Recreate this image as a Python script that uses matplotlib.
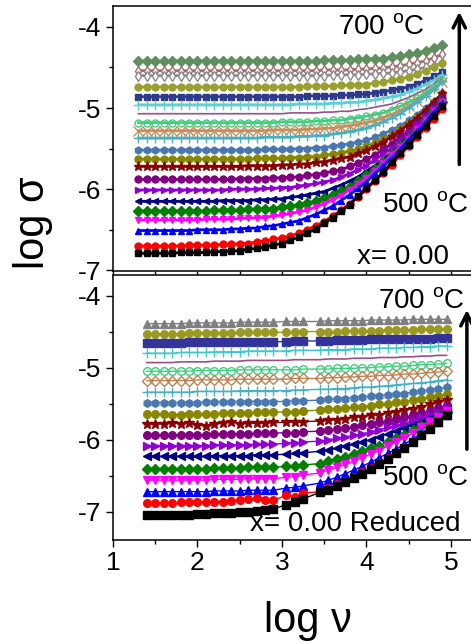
import matplotlib.pyplot as plt
from matplotlib.ticker import MultipleLocator

plt.rcParams['font.family'] = ['Liberation Sans', 'DejaVu Sans']
plt.rcParams['mathtext.fontset'] = 'custom'
plt.rcParams['mathtext.rm'] = 'Liberation Sans'
plt.rcParams['mathtext.default'] = 'regular'
plt.rcParams['axes.unicode_minus'] = False

# ---- data: log(sigma) vs log(nu), curves listed from 700 C down to 500 C ----
x_top = [1.3, 1.4, 1.5, 1.6, 1.7, 1.8, 1.9, 2.0, 2.1, 2.2, 2.3, 2.4, 2.5,
         2.6, 2.7, 2.8, 2.9, 3.0, 3.1, 3.2, 3.3, 3.4, 3.5, 3.6, 3.7, 3.8,
         3.9, 4.0, 4.1, 4.2, 4.3, 4.4, 4.5, 4.6, 4.7, 4.8, 4.9]

sig_top = [
    [-4.42, -4.42, -4.42, -4.42, -4.42, -4.42, -4.42, -4.42, -4.42, -4.42, -4.42, -4.42, -4.42, -4.42, -4.42, -4.42, -4.42, -4.42, -4.42, -4.42, -4.42, -4.42,
     -4.41, -4.41, -4.41, -4.41, -4.40, -4.40, -4.39, -4.39, -4.37, -4.36, -4.34, -4.32, -4.30, -4.26, -4.22],
    [-4.54, -4.54, -4.54, -4.54, -4.54, -4.54, -4.54, -4.54, -4.54, -4.54, -4.54, -4.54, -4.54, -4.54, -4.54, -4.54, -4.54, -4.54, -4.54, -4.54, -4.54, -4.54,
     -4.53, -4.53, -4.53, -4.53, -4.52, -4.52, -4.51, -4.51, -4.49, -4.48, -4.46, -4.44, -4.42, -4.38, -4.34],
    [-4.60, -4.60, -4.60, -4.60, -4.60, -4.60, -4.60, -4.60, -4.60, -4.60, -4.60, -4.60, -4.60, -4.60, -4.60, -4.60, -4.60, -4.60, -4.60, -4.60, -4.60, -4.60, -4.60,
     -4.59, -4.59, -4.59, -4.59, -4.58, -4.58, -4.57, -4.57, -4.55, -4.54, -4.52, -4.50, -4.48, -4.44],
    [-4.74, -4.74, -4.74, -4.74, -4.74, -4.74, -4.74, -4.74, -4.74, -4.74, -4.74, -4.74, -4.74, -4.74, -4.74, -4.74, -4.74, -4.74, -4.74, -4.74,
     -4.73, -4.73, -4.73, -4.73, -4.72, -4.72, -4.71, -4.71, -4.69, -4.68, -4.66, -4.64, -4.62, -4.58, -4.54, -4.49, -4.44],
    [-4.86, -4.86, -4.86, -4.86, -4.86, -4.86, -4.86, -4.86, -4.86, -4.86, -4.86, -4.86, -4.86, -4.86, -4.86, -4.86, -4.86, -4.86, -4.86, -4.86,
     -4.85, -4.85, -4.85, -4.85, -4.84, -4.84, -4.83, -4.83, -4.81, -4.80, -4.78, -4.76, -4.74, -4.70, -4.66, -4.61, -4.56],
    [-4.96, -4.96, -4.96, -4.96, -4.96, -4.96, -4.96, -4.96, -4.96, -4.96, -4.96, -4.96, -4.96, -4.96, -4.96, -4.96, -4.96, -4.96, -4.96,
     -4.95, -4.95, -4.95, -4.95, -4.94, -4.94, -4.93, -4.93, -4.91, -4.90, -4.88, -4.86, -4.84, -4.80, -4.76, -4.71, -4.66, -4.59],
    [-5.07, -5.07, -5.07, -5.07, -5.07, -5.07, -5.07, -5.07, -5.07, -5.07, -5.07, -5.07, -5.07, -5.07, -5.07, -5.07, -5.07, -5.07,
     -5.06, -5.06, -5.06, -5.06, -5.05, -5.05, -5.04, -5.04, -5.02, -5.01, -4.99, -4.97, -4.95, -4.91, -4.87, -4.82, -4.77, -4.70, -4.63],
    [-5.18, -5.18, -5.18, -5.18, -5.18, -5.18, -5.18, -5.18, -5.18, -5.18, -5.18, -5.18, -5.18, -5.18, -5.18, -5.18, -5.18,
     -5.17, -5.17, -5.17, -5.17, -5.16, -5.16, -5.15, -5.15, -5.13, -5.12, -5.10, -5.08, -5.06, -5.02, -4.98, -4.93, -4.88, -4.81, -4.74, -4.66],
    [-5.28, -5.28, -5.28, -5.28, -5.28, -5.28, -5.28, -5.28, -5.28, -5.28, -5.28, -5.28, -5.28, -5.28, -5.28, -5.28,
     -5.27, -5.27, -5.27, -5.27, -5.26, -5.26, -5.25, -5.25, -5.23, -5.22, -5.20, -5.18, -5.16, -5.12, -5.08, -5.03, -4.98, -4.91, -4.84, -4.76, -4.68],
    [-5.37, -5.37, -5.37, -5.37, -5.37, -5.37, -5.37, -5.37, -5.37, -5.37, -5.37, -5.37, -5.37, -5.37, -5.37,
     -5.36, -5.36, -5.36, -5.36, -5.35, -5.35, -5.34, -5.34, -5.32, -5.31, -5.29, -5.27, -5.25, -5.21, -5.17, -5.12, -5.07, -5.00, -4.93, -4.85, -4.77, -4.67],
    [-5.52, -5.52, -5.52, -5.52, -5.52, -5.52, -5.52, -5.52, -5.52, -5.52, -5.52, -5.52, -5.52, -5.52, -5.52,
     -5.51, -5.51, -5.51, -5.51, -5.50, -5.50, -5.49, -5.49, -5.47, -5.46, -5.44, -5.42, -5.40, -5.36, -5.32, -5.27, -5.22, -5.15, -5.08, -5.00, -4.92, -4.82],
    [-5.63, -5.63, -5.63, -5.63, -5.63, -5.63, -5.63, -5.63, -5.63, -5.63, -5.63, -5.63, -5.63, -5.63,
     -5.62, -5.62, -5.62, -5.62, -5.61, -5.61, -5.60, -5.60, -5.58, -5.57, -5.55, -5.53, -5.51, -5.47, -5.43, -5.38, -5.33, -5.26, -5.19, -5.11, -5.03, -4.93, -4.83],
    [-5.72, -5.72, -5.72, -5.72, -5.72, -5.72, -5.72, -5.72, -5.72, -5.72, -5.72, -5.72, -5.72,
     -5.71, -5.71, -5.71, -5.71, -5.70, -5.70, -5.69, -5.69, -5.67, -5.66, -5.64, -5.62, -5.60, -5.56, -5.52, -5.47, -5.42, -5.35, -5.28, -5.20, -5.12, -5.02, -4.92, -4.82],
    [-5.88, -5.88, -5.88, -5.88, -5.88, -5.88, -5.88, -5.88, -5.88, -5.88, -5.88, -5.88,
     -5.87, -5.87, -5.87, -5.87, -5.86, -5.86, -5.85, -5.85, -5.83, -5.82, -5.80, -5.78, -5.76, -5.72, -5.68, -5.63, -5.58, -5.51, -5.44, -5.36, -5.28, -5.18, -5.08, -4.98, -4.88],
    [-6.01, -6.01, -6.01, -6.01, -6.01, -6.01, -6.01, -6.01, -6.01, -6.01, -6.01,
     -6.00, -6.00, -6.00, -6.00, -5.99, -5.99, -5.98, -5.98, -5.96, -5.95, -5.93, -5.91, -5.89, -5.85, -5.81, -5.76, -5.71, -5.64, -5.57, -5.49, -5.41, -5.31, -5.21, -5.11, -5.01, -4.89],
    [-6.15, -6.15, -6.15, -6.15, -6.15, -6.15, -6.15, -6.15, -6.15, -6.15,
     -6.14, -6.14, -6.14, -6.14, -6.13, -6.13, -6.12, -6.12, -6.10, -6.09, -6.07, -6.05, -6.03, -5.99, -5.95, -5.90, -5.85, -5.78, -5.71, -5.63, -5.55, -5.45, -5.35, -5.25, -5.15, -5.03, -4.92],
    [-6.27, -6.27, -6.27, -6.27, -6.27, -6.27, -6.27, -6.27, -6.27,
     -6.26, -6.26, -6.26, -6.26, -6.25, -6.25, -6.24, -6.24, -6.22, -6.21, -6.19, -6.17, -6.15, -6.11, -6.07, -6.02, -5.97, -5.90, -5.83, -5.75, -5.67, -5.57, -5.47, -5.37, -5.27, -5.15, -5.04, -4.93],
    [-6.38, -6.38, -6.38, -6.38, -6.38, -6.38, -6.38, -6.38,
     -6.37, -6.37, -6.37, -6.37, -6.36, -6.36, -6.35, -6.35, -6.33, -6.32, -6.30, -6.28, -6.26, -6.22, -6.18, -6.13, -6.08, -6.01, -5.94, -5.86, -5.78, -5.68, -5.58, -5.48, -5.38, -5.26, -5.15, -5.04, -4.92],
    [-6.51, -6.51, -6.51, -6.51, -6.51, -6.51, -6.51,
     -6.50, -6.50, -6.50, -6.50, -6.49, -6.49, -6.48, -6.48, -6.46, -6.45, -6.43, -6.41, -6.39, -6.35, -6.31, -6.26, -6.21, -6.14, -6.07, -5.99, -5.91, -5.81, -5.71, -5.61, -5.51, -5.39, -5.28, -5.17, -5.05, -4.94],
    [-6.70, -6.70, -6.70, -6.70, -6.70, -6.70,
     -6.69, -6.69, -6.69, -6.69, -6.68, -6.68, -6.67, -6.67, -6.65, -6.64, -6.62, -6.60, -6.58, -6.54, -6.50, -6.45, -6.40, -6.33, -6.26, -6.18, -6.10, -6.00, -5.90, -5.80, -5.70, -5.58, -5.47, -5.36, -5.24, -5.13, -5.01],
    [-6.79, -6.79, -6.79, -6.79, -6.79,
     -6.78, -6.78, -6.78, -6.78, -6.77, -6.77, -6.76, -6.76, -6.74, -6.73, -6.71, -6.69, -6.67, -6.63, -6.59, -6.54, -6.49, -6.42, -6.35, -6.27, -6.19, -6.09, -5.99, -5.89, -5.79, -5.67, -5.56, -5.45, -5.33, -5.22, -5.10, -4.98],
]

# reduced sample: three frequency blocks with gaps between them
x_bot = [1.4, 1.5, 1.6, 1.7, 1.8, 1.9, 2.0, 2.1, 2.2, 2.3, 2.4, 2.5, 2.6, 2.7, 2.8, 2.9,
         3.05, 3.15, 3.25,
         3.45, 3.55, 3.65, 3.75, 3.85, 3.95, 4.05, 4.15, 4.25, 4.35, 4.45, 4.55, 4.65, 4.75, 4.85, 4.95]

sig_bot = [
    [-4.39, -4.39, -4.39, -4.39, -4.39, -4.38, -4.38, -4.38, -4.38, -4.38, -4.38, -4.37, -4.37, -4.37, -4.37, -4.37,
     -4.36, -4.36, -4.36,
     -4.36, -4.35, -4.35, -4.35, -4.35, -4.35, -4.34, -4.34, -4.34, -4.34, -4.34, -4.33, -4.33, -4.33, -4.33, -4.33],
    [-4.53, -4.53, -4.53, -4.53, -4.53, -4.52, -4.52, -4.52, -4.52, -4.52, -4.52, -4.51, -4.51, -4.51, -4.51, -4.51,
     -4.51, -4.51, -4.50,
     -4.50, -4.50, -4.50, -4.49, -4.49, -4.49, -4.49, -4.49, -4.48, -4.48, -4.48, -4.48, -4.47, -4.47, -4.47, -4.47],
    [-4.66, -4.66, -4.66, -4.66, -4.66, -4.65, -4.65, -4.65, -4.65, -4.65, -4.65, -4.64, -4.64, -4.64, -4.64, -4.64,
     -4.64, -4.63, -4.63,
     -4.63, -4.63, -4.62, -4.62, -4.62, -4.62, -4.61, -4.61, -4.61, -4.61, -4.60, -4.60, -4.60, -4.60, -4.59, -4.59],
    [-4.80, -4.80, -4.80, -4.80, -4.79, -4.79, -4.79, -4.79, -4.78, -4.78, -4.78, -4.78, -4.77, -4.77, -4.77, -4.77,
     -4.77, -4.76, -4.76,
     -4.76, -4.75, -4.75, -4.75, -4.74, -4.74, -4.74, -4.73, -4.73, -4.73, -4.72, -4.72, -4.71, -4.71, -4.70, -4.70],
    [-4.93, -4.93, -4.93, -4.93, -4.92, -4.92, -4.92, -4.92, -4.91, -4.91, -4.91, -4.91, -4.90, -4.90, -4.90, -4.90,
     -4.90, -4.89, -4.89,
     -4.89, -4.88, -4.88, -4.88, -4.87, -4.87, -4.87, -4.86, -4.86, -4.86, -4.85, -4.85, -4.84, -4.84, -4.83, -4.83],
    [-5.05, -5.05, -5.05, -5.05, -5.05, -5.05, -5.04, -5.04, -5.04, -5.04, -5.04, -5.03, -5.03, -5.03, -5.03, -5.03,
     -5.03, -5.03, -5.02,
     -5.02, -5.02, -5.01, -5.01, -5.01, -5.00, -5.00, -4.99, -4.99, -4.98, -4.98, -4.97, -4.96, -4.96, -4.95, -4.94],
    [-5.18, -5.18, -5.18, -5.18, -5.18, -5.18, -5.17, -5.17, -5.17, -5.17, -5.17, -5.16, -5.16, -5.16, -5.16, -5.16,
     -5.16, -5.15, -5.15,
     -5.15, -5.14, -5.14, -5.13, -5.13, -5.12, -5.12, -5.11, -5.11, -5.10, -5.09, -5.09, -5.08, -5.07, -5.06, -5.05],
    [-5.34, -5.34, -5.34, -5.34, -5.34, -5.34, -5.33, -5.33, -5.33, -5.33, -5.33, -5.32, -5.32, -5.32, -5.32, -5.32,
     -5.32, -5.31, -5.31,
     -5.30, -5.30, -5.29, -5.29, -5.28, -5.27, -5.27, -5.26, -5.25, -5.24, -5.23, -5.22, -5.21, -5.20, -5.18, -5.17],
    [-5.49, -5.49, -5.49, -5.49, -5.49, -5.49, -5.49, -5.48, -5.48, -5.48, -5.48, -5.48, -5.47, -5.47, -5.47, -5.47,
     -5.47, -5.46, -5.46,
     -5.45, -5.44, -5.44, -5.43, -5.42, -5.41, -5.40, -5.39, -5.38, -5.37, -5.36, -5.34, -5.33, -5.31, -5.29, -5.27],
    [-5.64, -5.64, -5.64, -5.65, -5.65, -5.64, -5.64, -5.64, -5.64, -5.63, -5.63, -5.63, -5.63, -5.62, -5.62, -5.62,
     -5.61, -5.61, -5.60,
     -5.59, -5.58, -5.57, -5.56, -5.55, -5.54, -5.53, -5.51, -5.50, -5.48, -5.47, -5.45, -5.43, -5.41, -5.39, -5.37],
    [-5.78, -5.78, -5.78, -5.77, -5.78, -5.77, -5.79, -5.81, -5.78, -5.77, -5.75, -5.78, -5.77, -5.77, -5.77, -5.76,
     -5.76, -5.75, -5.75,
     -5.74, -5.73, -5.72, -5.71, -5.69, -5.68, -5.66, -5.65, -5.63, -5.61, -5.59, -5.57, -5.54, -5.51, -5.48, -5.45],
    [-5.93, -5.93, -5.93, -5.93, -5.93, -5.93, -5.93, -5.93, -5.92, -5.92, -5.92, -5.92, -5.92, -5.91, -5.91, -5.91,
     -5.90, -5.90, -5.89,
     -5.88, -5.87, -5.85, -5.84, -5.82, -5.80, -5.78, -5.76, -5.74, -5.71, -5.69, -5.66, -5.63, -5.60, -5.56, -5.52],
    [-6.08, -6.08, -6.08, -6.08, -6.08, -6.08, -6.08, -6.08, -6.07, -6.07, -6.07, -6.07, -6.07, -6.06, -6.06, -6.06,
     -6.05, -6.04, -6.03,
     -6.02, -6.00, -5.98, -5.96, -5.94, -5.92, -5.89, -5.86, -5.83, -5.80, -5.77, -5.73, -5.69, -5.65, -5.61, -5.56],
    [-6.23, -6.23, -6.23, -6.23, -6.23, -6.23, -6.23, -6.23, -6.22, -6.22, -6.22, -6.22, -6.22, -6.21, -6.21, -6.21,
     -6.20, -6.19, -6.18,
     -6.16, -6.14, -6.12, -6.09, -6.06, -6.03, -6.00, -5.96, -5.92, -5.88, -5.84, -5.80, -5.75, -5.70, -5.65, -5.59],
    [-6.40, -6.40, -6.40, -6.40, -6.40, -6.40, -6.40, -6.40, -6.39, -6.39, -6.39, -6.39, -6.38, -6.38, -6.38, -6.38,
     -6.37, -6.36, -6.35,
     -6.33, -6.30, -6.27, -6.24, -6.20, -6.16, -6.12, -6.08, -6.03, -5.98, -5.93, -5.87, -5.81, -5.75, -5.68, -5.61],
    [-6.56, -6.56, -6.56, -6.56, -6.56, -6.56, -6.56, -6.56, -6.55, -6.55, -6.55, -6.55, -6.54, -6.54, -6.54, -6.54,
     -6.52, -6.51, -6.49,
     -6.46, -6.42, -6.38, -6.34, -6.30, -6.25, -6.20, -6.15, -6.09, -6.03, -5.97, -5.90, -5.83, -5.76, -5.68, -5.60],
    [-6.72, -6.72, -6.72, -6.72, -6.72, -6.72, -6.72, -6.72, -6.71, -6.71, -6.71, -6.71, -6.70, -6.70, -6.70, -6.70,
     -6.67, -6.66, -6.64,
     -6.60, -6.56, -6.52, -6.47, -6.42, -6.37, -6.31, -6.25, -6.19, -6.13, -6.06, -5.99, -5.91, -5.83, -5.75, -5.66],
    [-6.88, -6.88, -6.88, -6.88, -6.87, -6.87, -6.87, -6.87, -6.86, -6.86, -6.85, -6.84, -6.82, -6.81, -6.83, -6.84,
     -6.77, -6.79, -6.74,
     -6.72, -6.67, -6.62, -6.57, -6.51, -6.45, -6.39, -6.32, -6.25, -6.18, -6.10, -6.02, -5.93, -5.84, -5.75, -5.66],
    [-7.05, -7.05, -7.05, -7.04, -7.05, -7.04, -7.03, -7.03, -7.02, -7.02, -7.01, -7.00, -7.00, -6.99, -6.98, -6.96,
     -6.90, -6.87, -6.82,
     -6.73, -6.69, -6.64, -6.59, -6.53, -6.47, -6.41, -6.34, -6.27, -6.19, -6.11, -6.03, -5.94, -5.85, -5.75, -5.65],
]

# ---- styles (colour, marker, face) in the same order as the curves ----
sty_top = [
    ('#5f8f5f', 'D', None), ('#a0706e', 'd', 'white'), ('#8c8c8c', 'd', 'white'),
    ('#9aa030', 'o', None), ('#2e3a8c', 's', None), ('#5fd0d0', '+', None),
    ('#9c4f86', '', None), ('#3fcf7f', 'o', 'none'), ('#c88f5a', 'x', None),
    ('#4ab0c0', '+', None), ('#4878b0', 'h', None), ('#888800', 'o', None),
    ('#8b0000', '*', None), ('#800080', 'o', None), ('#9000d0', '>', None),
    ('#000080', '<', None), ('#008000', 'D', None), ('#ff00ff', 'v', None),
    ('#0000ff', '^', None), ('#ff0000', 'o', None), ('#000000', 's', None),
]
sty_bot = [
    ('#808080', '^', None), ('#9a9a20', 'o', None), ('#333399', 's', None),
    ('#40c8c8', '+', None), ('#9c4f86', '', None), ('#3fcf7f', 'o', 'none'),
    ('#c08050', 'D', 'none'), ('#4ab0c0', '+', None), ('#4878b0', 'h', None),
    ('#888800', 'o', None), ('#8b0000', '*', None), ('#800080', 'o', None),
    ('#9000d0', '>', None), ('#000080', '<', None), ('#008000', 'D', None),
    ('#ff00ff', 'v', None), ('#0000ff', '^', None), ('#ff0000', 'o', None),
    ('#000000', 's', None),
]

fig = plt.figure(figsize=(4.71, 6.44), dpi=100)
ax1 = fig.add_axes([0.240, 0.579, 0.771, 0.412])
ax2 = fig.add_axes([0.240, 0.1615, 0.771, 0.411])


def draw(ax, x, curves, styles, ms, lw):
    for y, (c, m, fc) in zip(curves, styles):
        size = ms + 1.5 if m in ('+', 'x', '*') else ms
        ax.plot(x, y, color=c, marker=m, ms=size, lw=(1.2 if m == '' else lw),
                mfc=(c if fc is None else fc), mec=c, mew=1.0)


draw(ax1, x_top, sig_top, sty_top, ms=5, lw=2.0)
draw(ax2, x_bot, sig_bot, sty_bot, ms=5.5, lw=1.0)

ax1.set_ylim(-7.01, -3.74)
ax2.set_ylim(-7.39, -3.72)
for ax in (ax1, ax2):
    ax.set_xlim(1, 5.3)
    ax.xaxis.set_major_locator(MultipleLocator(1))
    ax.xaxis.set_minor_locator(MultipleLocator(0.5))
    ax.yaxis.set_major_locator(MultipleLocator(1))
    ax.yaxis.set_minor_locator(MultipleLocator(0.5))
    ax.tick_params(which='major', direction='out', length=5, width=1,
                   labelsize=19, pad=3.5)
    ax.tick_params(which='minor', direction='out', length=3, width=1)
    for s in ax.spines.values():
        s.set_linewidth(1.1)
ax1.tick_params(axis='x', which='both', labelbottom=False)
ax2.tick_params(axis='x', which='major', pad=3)

# annotations
ax1.text(3.66, -4.0, '700 $^{o}$C', fontsize=20, va='center', ha='left')
ax1.text(4.18, -6.2, '500 $^{o}$C', fontsize=20, va='center', ha='left')
ax1.text(3.89, -6.84, 'x= 0.00', fontsize=20, va='center', ha='left')
ax1.annotate('', xy=(5.10, -3.78), xytext=(5.10, -5.73), annotation_clip=False,
             arrowprops=dict(arrowstyle='->', lw=2.5, color='black', mutation_scale=22))

ax2.text(4.14, -4.07, '700 $^{o}$C', fontsize=20, va='center', ha='left')
ax2.text(4.19, -6.53, '500 $^{o}$C', fontsize=20, va='center', ha='left')
ax2.text(2.62, -7.17, 'x= 0.00 Reduced', fontsize=20, va='center', ha='left')
ax2.annotate('', xy=(5.19, -4.16), xytext=(5.19, -6.17), annotation_clip=False,
             arrowprops=dict(arrowstyle='->', lw=2.5, color='black', mutation_scale=22))

fig.text(0.07, 0.655, 'log σ', rotation=90, fontsize=30, ha='center', va='center')
fig.text(0.654, 0.036, 'log ν', fontsize=30, ha='center', va='center')

fig.savefig('out.png', dpi=100)
